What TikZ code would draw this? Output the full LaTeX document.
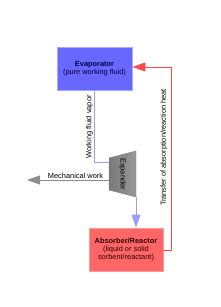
\documentclass[tikz,border=0pt]{standalone}
\usepackage{fontspec}
\setmainfont{Liberation Sans}
\usetikzlibrary{arrows.meta}
\definecolor{evapfill}{HTML}{6868FF}
\definecolor{evapline}{HTML}{A8A8FF}
\definecolor{absfill}{HTML}{FF6666}
\definecolor{absline}{HTML}{FF9A9A}
\definecolor{vapline}{HTML}{9C9CFF}
\definecolor{heatline}{HTML}{FF4848}
\definecolor{workline}{HTML}{8C8C8C}
\tikzset{
  unitbox/.style={draw, line width=0.8pt, minimum width=75pt, inner sep=0pt, align=center, font=\fontsize{7.4}{8.4}\selectfont},
  lbl/.style={font=\fontsize{7.4}{8.4}\selectfont, inner sep=0pt},
  bigtip/.style={-{Triangle[length=13pt,width=9pt]}},
}
\begin{document}
\begin{tikzpicture}[x=1pt,y=-1pt]
\useasboundingbox (0,0) rectangle (220,307);
% Evaporator
\node[unitbox, fill=evapfill, draw=evapline, minimum width=75pt, minimum height=43pt, text=blue!25!black] (evap) at (94.5,68.5)
  {\textbf{Evaporator}\\(pure working fluid)};
% Absorber
\node[unitbox, fill=absfill, draw=absline, minimum width=74pt, minimum height=43pt, text=red!20!black] (abs) at (126,249.5)
  {\textbf{Absorber/Reactor}\\(liquid or solid\\sorbent/reactant)};
% Expander trapezoid
\coordinate (e1) at (109,158);
\coordinate (e2) at (136,151);
\coordinate (e3) at (136,197);
\coordinate (e4) at (109,190);
\shade[left color=gray!95!black, right color=gray!80, draw=gray] (e1) -- (e2) -- (e3) -- (e4) -- cycle;
\node[lbl, rotate=-90] (exp) at (122.5,174) {Expander};
% vapor line
\coordinate (v1) at (94,162);
\draw[vapline, line width=0.8pt] (evap.south -| v1) -- (v1) -- (109,162);
\node[lbl, rotate=90] (vaplbl) at (89.5,127) {Working fluid vapor};
% expander to absorber
\draw[vapline, line width=0.8pt, bigtip] (e3) -- (abs.north -| e3);
% mechanical work
\coordinate (mw) at (27,180);
\draw[workline, line width=1pt, bigtip] (109,180) -- (mw);
\node[lbl, anchor=south] (mwlbl) at (75.5,178.5) {Mechanical work};
% heat return
\coordinate (h1) at (171,250);
\coordinate (h2) at (171,67);
\draw[heatline, line width=0.8pt, bigtip] (abs.east |- h1) -- (h1) -- (h2) -- (evap.east |- h2);
\node[lbl, rotate=90] (heatlbl) at (164,147.5) {Transfer of absorption/reaction heat};
\end{tikzpicture}
\end{document}
